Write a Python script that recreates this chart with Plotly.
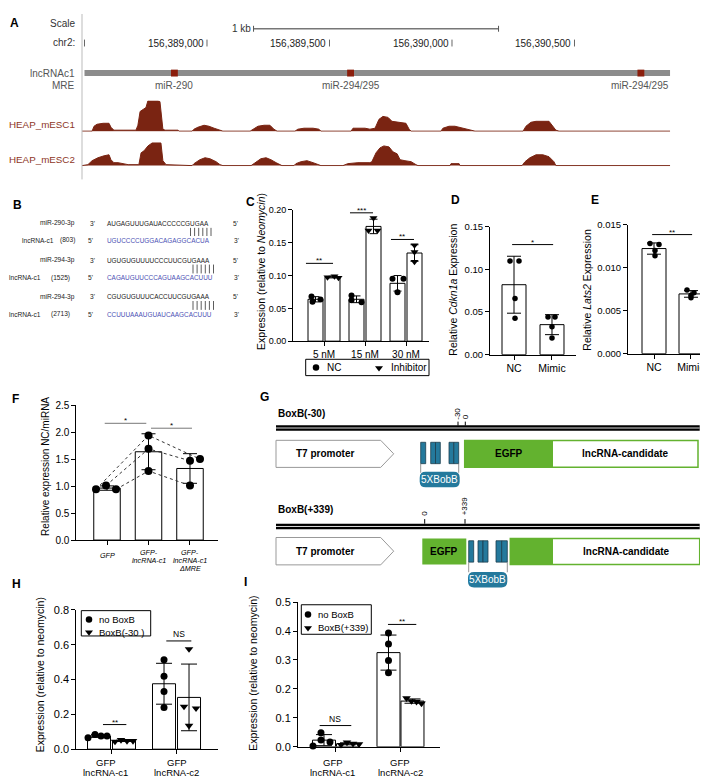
import numpy as np
import plotly.graph_objects as go

W, H = 708, 778
FONT = "Liberation Sans, Arial, Helvetica, sans-serif"


def px(x):
    return x / W


def py(y):
    return 1 - y / H


# ======================= DATA =======================
# ---- Panel A (positions in bp relative to chr2:156,388,500) ----
A_ORIGIN = 156388500
a_tick_pos = [0, 500, 1000, 1500, 2000]
a_tick_lab = ["", "156,389,000", "156,389,500", "156,390,000", "156,390,500"]
a_track_span = [0, 2390]
a_mre_pos = [367, 1086, 2271]
a_mre_lab = ["miR-290", "miR-294/295", "miR-294/295"]
a_scale_bp = [690, 1690]
heap1_pos = [-10, 31, 39, 51, 76, 100, 108, 120, 161, 210,
             218, 227, 239, 251, 259, 300, 308, 320, 329, 382,
             386, 439, 447, 463, 488, 508, 529, 549, 565, 676,
             688, 708, 733, 757, 773, 786, 859, 871, 896, 933,
             957, 965, 1088, 1096, 1145, 1165, 1186, 1202, 1218, 1239,
             1255, 1276, 1312, 1325, 1333, 1455, 1463, 1488, 1512, 1545,
             1586, 1594, 1790, 1802, 1822, 1843, 1896, 1912, 1924, 1937,
             2390]
heap1_cov = [0, 0, 5, 7, 8, 8, 4, 1, 1, 1,
             6, 20, 22, 24, 31, 31, 30, 2, 1, 1,
             0, 0, 2, 4, 6, 5, 3, 1, 0, 0,
             2, 5, 6, 6, 2, 0, 0, 2, 3, 3,
             2, 0, 0, 3, 3, 2, 3, 12, 15, 14,
             10, 9, 8, 2, 0, 0, 3, 5, 5, 3,
             1, 0, 0, 5, 9, 10, 10, 5, 1, 0,
             0]
heap2_pos = [-10, 14, 31, 55, 80, 100, 108, 120, 137, 165,
             178, 222, 231, 243, 259, 276, 312, 320, 333, 439,
             447, 471, 492, 512, 537, 553, 565, 680, 696, 720,
             741, 761, 782, 798, 806, 855, 863, 884, 908, 933,
             953, 965, 1055, 1075, 1116, 1165, 1173, 1190, 1206, 1222,
             1243, 1259, 1276, 1288, 1308, 1333, 1353, 1361, 1492, 1496,
             1529, 1533, 1786, 1798, 1818, 1843, 1871, 1896, 1916, 1924,
             2390]
heap2_cov = [0, 1, 5, 8, 10, 11, 6, 3, 3, 2,
             1, 1, 13, 15, 20, 23, 23, 5, 1, 0,
             2, 6, 8, 7, 4, 1, 0, 0, 3, 7,
             8, 6, 3, 1, 0, 0, 2, 4, 5, 3,
             1, 0, 0, 2, 3, 3, 4, 13, 18, 20,
             19, 14, 12, 6, 5, 4, 1, 0, 0, 2,
             2, 0, 0, 4, 8, 11, 11, 9, 4, 0,
             0]

# ---- Panel B ----
b_mir_names = ["miR-290-3p", "miR-294-3p", "miR-294-3p"]
b_mir_seqs = ["AUGAGUUUGAUACCCCCGUGAA", "UGUGUGUUUUCCCUUCGUGAAA", "CGUGUGUUUCACCUUCGUGAAA"]
b_site_pos = ["(803)", "(1525)", "(2713)"]
b_lnc_seqs = ["UGUCCCCUGGACAGAGGCACUA", "CAGAUGUUCCCAGUAAGCACUUU", "CCUUUAAAUGUAUCAAGCACUUU"]

# ---- Panel C ----
c_conc = ["5 nM", "15 nM", "30 nM"]
c_nc = [[0.068, 0.060, 0.0635], [0.0695, 0.0625, 0.0595], [0.095, 0.095, 0.0745]]
c_inh = [[0.0975, 0.0990, 0.0965], [0.1876, 0.1685, 0.1685], [0.146, 0.136, 0.121]]

# ---- Panel D ----
d_groups = ["NC", "Mimic"]
d_nc = [0.1097, 0.1097, 0.0658, 0.0427]
d_mimic = [0.0442, 0.0442, 0.0327, 0.0196]

# ---- Panel E ----
e_groups = ["NC", "Mimic"]
e_nc = [0.0128, 0.0127, 0.0120, 0.0114]
e_mimic = [0.0074, 0.0071, 0.0068, 0.0065]

# ---- Panel F ----
f_groups = [["GFP"], ["GFP-", "lncRNA-c1"], ["GFP-", "lncRNA-c1", "ΔMRE"]]
f_gfp = [0.94, 1.01, 0.94]
f_lnc = [1.94, 1.69, 1.28]
f_mre = [1.50, 1.47, 1.01]

# ---- Panel H ----
h_groups = [["GFP", "lncRNA-c1"], ["GFP", "lncRNA-c2"]]
h_nobox = [[0.066, 0.085, 0.076, 0.076], [0.514, 0.419, 0.331, 0.240]]
h_box = [[0.044, 0.053, 0.047, 0.047], [0.575, 0.245, 0.235, 0.135]]

# ---- Panel I ----
i_groups = [["GFP", "lncRNA-c1"], ["GFP", "lncRNA-c2"]]
i_nobox = [[0.003, 0.0486, 0.0238, 0.017], [0.393, 0.355, 0.298, 0.256]]
i_box = [[0.007, 0.015, 0.011, 0.009], [0.168, 0.158, 0.156, 0.150]]

# ======================= STYLE =======================
HEAP_C = "#7A2412"
HEAP_T = "#8E3626"
MRE_C = "#8B1E0C"
BLUE_SEQ = "#4B50B4"
TEAL = "#24799C"
TEAL_D = "#1C3E4E"
GREEN = "#63B22F"

fig = go.Figure()
shapes = []
anns = []


def ann(x, y, text, size=10, color="black", xanchor="center", yanchor="middle",
        angle=0, xref="x9", yref="y9", xshift=0, yshift=0):
    anns.append(dict(x=x, y=y, text=text, xref=xref, yref=yref, showarrow=False,
                     font=dict(size=size, color=color, family=FONT),
                     xanchor=xanchor, yanchor=yanchor, textangle=angle,
                     xshift=xshift, yshift=yshift, borderpad=0))


def line(x0, y0, x1, y1, color="black", width=1, xref="x9", yref="y9", dash=None):
    d = dict(type="line", x0=x0, y0=y0, x1=x1, y1=y1, xref=xref, yref=yref,
             line=dict(color=color, width=width))
    if dash:
        d["line"]["dash"] = dash
    shapes.append(d)


def rect(x0, y0, x1, y1, fill, lc, lw=1, xref="x9", yref="y9"):
    shapes.append(dict(type="rect", x0=x0, y0=y0, x1=x1, y1=y1, xref=xref, yref=yref,
                       fillcolor=fill, line=dict(color=lc, width=lw)))


def path(p, fill, lc, lw=1):
    shapes.append(dict(type="path", path=p, xref="x9", yref="y9", fillcolor=fill,
                       line=dict(color=lc, width=lw)))


def rrect(x0, y0, x1, y1, r):
    return (f"M{x0+r},{y0} L{x1-r},{y0} Q{x1},{y0} {x1},{y0+r} L{x1},{y1-r} "
            f"Q{x1},{y1} {x1-r},{y1} L{x0+r},{y1} Q{x0},{y1} {x0},{y1-r} "
            f"L{x0},{y0+r} Q{x0},{y0} {x0+r},{y0} Z")


# panel letters
for L, x, y in [("A", 6, 9), ("B", 9, 194), ("C", 242, 191), ("D", 447, 189), ("E", 587, 189),
                ("F", 7.5, 391.5), ("G", 256, 389), ("H", 8, 579), ("I", 237, 577)]:
    ann(x, y, f"<b>{L}</b>", size=12)

# ======================= PANEL A =======================
for pos, cov, ya in [(heap1_pos, heap1_cov, "y"), (heap2_pos, heap2_cov, "y2")]:
    fig.add_trace(go.Scatter(x=pos, y=cov, mode="lines", fill="tozeroy", fillcolor=HEAP_C,
                             line=dict(color=HEAP_C, width=1), xaxis="x", yaxis=ya,
                             hoverinfo="skip", showlegend=False))

line(74, 0, 74, 168, color="#BBBBBB", width=1)
ann(68, 10, "Scale", size=10, color="#333333", xanchor="right")
ann(68, 29, "chr2:", size=10, color="#333333", xanchor="right")
ann(68, 60, "lncRNAc1", size=10, color="#555555", xanchor="right")
ann(68, 73, "MRE", size=10, color="#555555", xanchor="right")
ann(0, 112, "HEAP_mESC1", size=9.8, color=HEAP_T, xanchor="left")
ann(0, 148, "HEAP_mESC2", size=9.8, color=HEAP_T, xanchor="left")
# scale bar
line(a_scale_bp[0], 15, a_scale_bp[1], 15, color="#777777", width=1.5, xref="x")
for xb in a_scale_bp:
    line(xb, 12, xb, 18, color="#555555", width=1, xref="x")
ann(a_scale_bp[0], 15, "1 kb", size=10, color="#333333", xanchor="right", xref="x", xshift=-2)
# coordinate ticks
for tp, tl in zip(a_tick_pos, a_tick_lab):
    line(tp, 26, tp, 33, color="#666666", width=1, xref="x")
    if tl:
        ann(tp, 29.5, tl, size=10, color="#222222", xanchor="right", xref="x", xshift=-2)
# lncRNA bar and MRE
rect(a_track_span[0], 57, a_track_span[1], 63, "#8C8C8C", "#8C8C8C", 0, xref="x")
for mp in a_mre_pos:
    rect(mp - 14, 56.5, mp + 14, 63.5, MRE_C, MRE_C, 0, xref="x")
for i, (mp, ml) in enumerate(zip(a_mre_pos, a_mre_lab)):
    if i == len(a_mre_pos) - 1:
        ann(a_track_span[1], 72.5, ml, size=10, color="#555555", xanchor="right", xref="x")
    else:
        ann(mp, 72.5, ml, size=10, color="#555555", xref="x")

# ======================= PANEL B =======================
b_mir_y = [212.7, 250, 287]
b_lnc_y = [230, 268, 305]
b_lnc_lab_r = [47, 34, 34]
b_pos_r = [68, 63, 63]
b_bar_x0 = [182.5, 185, 185]
for k in range(3):
    ym, yl = b_mir_y[k], b_lnc_y[k]
    ann(68, ym, b_mir_names[k], size=6.6, color="#222222", xanchor="right")
    ann(84, ym, "3'", size=6.6, color="#222222")
    ann(98, ym, b_mir_seqs[k], size=6.4, color="#222222", xanchor="left")
    ann(227, ym, "5'", size=6.6, color="#222222")
    ann(b_lnc_lab_r[k], yl, "lncRNA-c1", size=6.6, color="#222222", xanchor="right")
    ann(b_pos_r[k], yl, b_site_pos[k], size=6.6, color="#222222", xanchor="right")
    ann(82, yl, "5'", size=6.6, color="#222222")
    ann(98, yl, b_lnc_seqs[k], size=6.4, color=BLUE_SEQ, xanchor="left")
    ann(228, yl, "3'", size=6.6, color="#222222")
    for j in range(6):
        xx = b_bar_x0[k] + j * 4.1
        line(xx, ym + 4.5, xx, yl - 4.5, color="#333333", width=0.8)


# ======================= helpers for bar charts =======================
def bars_points(xa, ya, centers, pts, offset, width, jit, ppu, symbol, msize, cap):
    means = [float(np.mean(p)) for p in pts]
    sds = [float(np.std(p, ddof=1)) for p in pts]
    fig.add_trace(go.Bar(x=[c + offset for c in centers], y=means, width=width,
                         marker=dict(color="white", line=dict(color="black", width=1)),
                         error_y=dict(type="data", array=sds, visible=True, color="black",
                                      thickness=1, width=cap),
                         xaxis=xa, yaxis=ya, showlegend=False, hoverinfo="skip"))
    xs, ys = [], []
    for c, p, jj in zip(centers, pts, jit):
        for v, j in zip(p, jj):
            xs.append(c + offset + j / ppu)
            ys.append(v)
    return dict(x=xs, y=ys, xaxis=xa, yaxis=ya, symbol=symbol, size=msize)


point_sets = []


def yax(bot, top, rng, dtick, fmt, fs, anchor):
    return dict(domain=[py(bot), py(top)], range=rng, tick0=0, dtick=dtick, tickformat=fmt,
                showline=True, linecolor="black", linewidth=1, ticks="outside", ticklen=4,
                tickwidth=1, tickcolor="black", tickfont=dict(size=fs, color="black", family=FONT),
                showgrid=False, zeroline=False, anchor=anchor)


def xax(left, right, rng, tickvals, ticktext, fs, anchor):
    return dict(domain=[px(left), px(right)], range=rng, tickvals=tickvals, ticktext=ticktext,
                showline=True, linecolor="black", linewidth=1, ticks="outside", ticklen=4,
                tickwidth=1, tickcolor="black", tickfont=dict(size=fs, color="black", family=FONT),
                showgrid=False, zeroline=False, anchor=anchor)


def sig(xa, ya, x0, x1, y, text, color="black", size=8, yshift=-3):
    line(x0, y, x1, y, color=color, width=1, xref=xa, yref=ya)
    ann((x0 + x1) / 2, y, text, size=size, color="black", xref=xa, yref=ya,
        yanchor="bottom", yshift=yshift)


def cat_labels(xa, centers, labels, y0, dy, size, italic=False):
    for c, lab in zip(centers, labels):
        for k, t in enumerate(lab):
            txt = f"<i>{t}</i>" if italic else t
            ann(c, y0 + k * dy, txt, size=size, xref=xa)


# ======================= PANEL C =======================
C_PPU = 41.0
c_centers = [0, 1, 2]
c_nc_jit = [[-4, -3, 5], [-5, -5, 5], [-5, 6, 0]]
c_inh_jit = [[-5, 2, 6], [0, -5, 4], [0, 0, 0]]
point_sets.append(bars_points("x3", "y3", c_centers, c_nc, -8.5 / C_PPU, 15 / C_PPU, c_nc_jit, C_PPU, "circle", 6, 4))
point_sets.append(bars_points("x3", "y3", c_centers, c_inh, 8.5 / C_PPU, 15 / C_PPU, c_inh_jit, C_PPU, "triangle-down", 7, 4))
sig("x3", "y3", -0.44, 0.22, 0.1186, "**")
sig("x3", "y3", 0.634, 1.195, 0.1956, "***")
sig("x3", "y3", 1.634, 2.195, 0.155, "**")
ann(253, 262, "Expression (relative to <i>Neomycin</i>)", size=10.5, angle=-90)
rect(297.7, 350.7, 421, 367.3, "rgba(0,0,0,0)", "black", 1)
ann(318, 359, "NC", size=10, xanchor="left")
ann(382, 359, "Inhibitor", size=10, xanchor="left")

# ======================= PANEL D =======================
D_PPU = 38.0
d_jit = [[-4, 5, 1, 1], [-4, 3, 0, 0]]
point_sets.append(bars_points("x4", "y4", [0], [d_nc], 0, 24 / D_PPU, [d_jit[0]], D_PPU, "circle", 5.5, 7))
point_sets.append(bars_points("x4", "y4", [1], [d_mimic], 0, 24 / D_PPU, [d_jit[1]], D_PPU, "circle", 5.5, 7))
sig("x4", "y4", -0.05, 1.03, 0.129, "*")
ann(445, 280, "Relative <i>Cdkn1a</i> Expression", size=10.5, angle=-90)

# ======================= PANEL E =======================
E_PPU = 37.0
point_sets.append(bars_points("x5", "y5", [0], [e_nc], 0, 24 / E_PPU, [d_jit[0]], E_PPU, "circle", 5.5, 7))
point_sets.append(bars_points("x5", "y5", [1], [e_mimic], 0, 24 / E_PPU, [d_jit[1]], E_PPU, "circle", 5.5, 7))
sig("x5", "y5", -0.05, 1.03, 0.01385, "**")
ann(579, 280, "Relative <i>Lats2</i> Expression", size=10.5, angle=-90)

# ======================= PANEL F =======================
F_PPU = 41.5
f_jit = [[-11, -1, 9], [0, 0, 0], [10, 0, 0]]
f_vals = [f_gfp, f_lnc, f_mre]
for g in range(3):
    point_sets.append(bars_points("x6", "y6", [g], [f_vals[g]], 0, 26.5 / F_PPU, [f_jit[g]], F_PPU, "circle", 8, 7))
for r in range(3):
    fig.add_trace(go.Scatter(x=[g + f_jit[g][r] / F_PPU for g in range(3)],
                             y=[f_vals[g][r] for g in range(3)], mode="lines",
                             line=dict(color="#333333", width=1, dash="dot"),
                             xaxis="x6", yaxis="y6", showlegend=False, hoverinfo="skip"))
sig("x6", "y6", -0.055, 0.947, 2.164, "*", color="#777777")
sig("x6", "y6", 1.06, 2.048, 2.073, "*", color="#777777")
ann(38, 460, "Relative expression NC/miRNA", size=10, angle=-90)
ann(0, 550, "<i>GFP</i>", size=7.2, xref="x6")
cat_labels("x6", [1, 2], f_groups[1:], 546.7, 8.3, 7.2, italic=True)

# ======================= PANEL G =======================
ann(269, 406, "<b>BoxB(-30)</b>", size=10, xanchor="left")
ann(269, 503.3, "<b>BoxB(+339)</b>", size=10, xanchor="left")

# construct 1
rect(268, 417.7, 691.7, 423.3, "black", "black", 0)
line(268, 420.5, 691.7, 420.5, color="#DDDDDD", width=1)
ann(450, 406, "-30", size=8, angle=-90)
ann(457.6, 409, "0", size=8, angle=-90)
line(450, 414, 450, 418, width=1)
line(457.3, 414, 457.3, 418, width=1)
path("M268,433 L372.7,433 L385.7,446.7 L372.7,460.5 L268,460.5 Z", "white", "#999999", 1)
ann(316.7, 446.7, "<b>T7 promoter</b>", size=10)
for x0, x1 in [(412.7, 417.7), (422.7, 427.5), (427.5, 432.3), (441, 445.8), (445.8, 450.7)]:
    rect(x0, 435, x1, 456.7, TEAL, TEAL_D, 0.8)
line(412.7, 456.7, 412.7, 466, color="#777777", width=0.8)
line(450.7, 456.7, 450.7, 466, color="#777777", width=0.8)
path(rrect(411.7, 465, 451.7, 480.7, 6), TEAL, TEAL, 0)
ann(431.7, 473, "5XBobB", size=10, color="white")
rect(456.7, 433.3, 545, 460.3, GREEN, GREEN, 0)
rect(456.7, 433.3, 690, 460.3, "rgba(0,0,0,0)", GREEN, 1.5)
ann(501, 446.7, "<b>EGFP</b>", size=10)
ann(617.5, 446.7, "<b>lncRNA-candidate</b>", size=10)

# construct 2
rect(268, 517.7, 691.7, 523.3, "black", "black", 0)
line(268, 520.5, 691.7, 520.5, color="#DDDDDD", width=1)
ann(417, 507.5, "0", size=8, angle=-90)
ann(456.5, 499.5, "+339", size=8, angle=-90)
line(416.7, 513, 416.7, 517.7, width=1)
line(457, 513, 457, 517.7, width=1)
path("M268,531.7 L372.7,531.7 L385.7,545.6 L372.7,559.5 L268,559.5 Z", "white", "#999999", 1)
ann(316.7, 545.6, "<b>T7 promoter</b>", size=10)
rect(414.3, 532.7, 458.3, 559, GREEN, GREEN, 0)
ann(436.3, 545.6, "<b>EGFP</b>", size=10)
for x0, x1 in [(460.7, 465.7), (470, 475), (475, 480), (488, 493.7), (493.7, 499.3)]:
    rect(x0, 535, x1, 556.7, TEAL, TEAL_D, 0.8)
line(460.7, 556.7, 460.7, 567, color="#777777", width=0.8)
line(499.3, 556.7, 499.3, 567, color="#777777", width=0.8)
path(rrect(460, 566.7, 499.3, 582.5, 6), TEAL, TEAL, 0)
ann(479.7, 574.6, "5XBobB", size=10, color="white")
rect(502.3, 532.7, 545, 559, GREEN, GREEN, 0)
rect(502.3, 532.7, 691.7, 559, "rgba(0,0,0,0)", GREEN, 1.5)
ann(618, 545.6, "<b>lncRNA-candidate</b>", size=10)

# ======================= PANEL H =======================
H_PPU = 65.0
h_centers = [0, 1]
h_nobox_jit = [[-11, -4, 2, 8], [0, 0, 0, 0]]
h_box_jit = [[-9, -3, 3, 9], [0, -5, 7, 0]]
point_sets.append(bars_points("x7", "y7", h_centers, h_nobox, -12.5 / H_PPU, 23 / H_PPU, h_nobox_jit, H_PPU, "circle", 7, 8))
point_sets.append(bars_points("x7", "y7", h_centers, h_box, 12.5 / H_PPU, 23 / H_PPU, h_box_jit, H_PPU, "triangle-down", 7.5, 8))
sig("x7", "y7", -0.131, 0.228, 0.1414, "**")
sig("x7", "y7", 0.843, 1.228, 0.622, "NS", size=8.5, yshift=1)
ann(31.7, 671, "Expression (relative to neomycin)", size=10.5, angle=-90)
rect(73.3, 606, 142.7, 631.7, "rgba(0,0,0,0)", "black", 1)
ann(90, 615, "no BoxB", size=9.5, xanchor="left")
ann(90, 627.7, "BoxB(-30 )", size=9.5, xanchor="left")
cat_labels("x7", [-0.09, 1.0], h_groups, 760, 10.5, 9.5)

# ======================= PANEL I =======================
I_PPU = 64.5
i_centers = [0, 1]
i_nobox_jit = [[-11, -3, -3, 6], [0, 0, 0, 0]]
i_box_jit = [[-7, -1, 5, 11], [-6, -1, 4, 9]]
point_sets.append(bars_points("x8", "y8", i_centers, i_nobox, -12 / I_PPU, 23 / I_PPU, i_nobox_jit, I_PPU, "circle", 7, 8))
point_sets.append(bars_points("x8", "y8", i_centers, i_box, 12 / I_PPU, 23 / I_PPU, i_box_jit, I_PPU, "triangle-down", 7.5, 8))
sig("x8", "y8", -0.253, 0.237, 0.0735, "NS", size=8.5, yshift=1)
sig("x8", "y8", 0.806, 1.245, 0.4228, "**")
ann(245, 670, "Expression (relative to neomycin)", size=10.5, angle=-90)
rect(293.3, 600, 363.3, 630, "rgba(0,0,0,0)", "black", 1)
ann(309, 610, "no BoxB", size=9.5, xanchor="left")
ann(309, 623, "BoxB(+339)", size=9.5, xanchor="left")
cat_labels("x8", [-0.05, 1.0], i_groups, 760, 10.5, 9.5)

# data points on top
for ps in point_sets:
    fig.add_trace(go.Scatter(x=ps["x"], y=ps["y"], mode="markers",
                             marker=dict(symbol=ps["symbol"], size=ps["size"], color="black"),
                             xaxis=ps["xaxis"], yaxis=ps["yaxis"], showlegend=False,
                             hoverinfo="skip", cliponaxis=False))

# legend symbols (drawn on page-pixel overlay axis)
fig.add_trace(go.Scatter(x=[308, 81, 300], y=[359, 615, 610], mode="markers",
                         marker=dict(symbol="circle", size=6.5, color="black"),
                         xaxis="x9", yaxis="y9", showlegend=False, hoverinfo="skip"))
fig.add_trace(go.Scatter(x=[371, 81, 300], y=[359.5, 628, 623.5], mode="markers",
                         marker=dict(symbol="triangle-down", size=7, color="black"),
                         xaxis="x9", yaxis="y9", showlegend=False, hoverinfo="skip"))

# ======================= LAYOUT =======================
hidden = dict(visible=False, showgrid=False, zeroline=False)
layout = dict(
    width=W, height=H, margin=dict(l=0, r=0, t=0, b=0),
    paper_bgcolor="white", plot_bgcolor="rgba(0,0,0,0)",
    font=dict(family=FONT, color="black"),
    barmode="overlay", showlegend=False,
    xaxis=dict(domain=[0, 1], range=[-312.2, 2577.6], anchor="y", **hidden),
    yaxis=dict(domain=[py(119.6), py(88)], range=[-0.6, 31], anchor="x", **hidden),
    yaxis2=dict(domain=[py(154.6), py(123)], range=[-0.6, 31], anchor="x", **hidden),
    xaxis3=xax(285, 421, [-0.756, 2.561], [0, 1, 2], c_conc, 10, "y3"),
    yaxis3=yax(332.3, 199, [0, 0.2], 0.05, ".2f", 9, "x3"),
    xaxis4=xax(482, 568, [-0.632, 1.632], [0, 1], d_groups, 10.5, "y4"),
    yaxis4=yax(346, 216, [0, 0.15], 0.05, ".2f", 9.5, "x4"),
    xaxis5=xax(620, 706, [-0.703, 1.622], [0, 1], e_groups, 10.5, "y5"),
    yaxis5=yax(345, 214, [0, 0.015], 0.005, ".3f", 9.5, "x5"),
    xaxis6=xax(68.3, 210, [-0.74, 2.675], [0, 1, 2], ["", "", ""], 7.2, "y6"),
    yaxis6=yax(534.3, 397.3, [0, 2.5], 0.5, ".1f", 10, "x6"),
    xaxis7=xax(68.3, 210, [-0.5415, 1.638], [0, 1], ["", ""], 9.5, "y7"),
    yaxis7=yax(746.7, 605.3, [0, 0.8], 0.2, ".1f", 11, "x7"),
    xaxis8=xax(290, 431.7, [-0.589, 1.608], [0, 1], ["", ""], 9.5, "y8"),
    yaxis8=yax(744.3, 597.3, [0, 0.5], 0.1, ".1f", 11, "x8"),
    xaxis9=dict(domain=[0, 1], range=[0, W], anchor="y9", **hidden),
    yaxis9=dict(domain=[0, 1], range=[H, 0], anchor="x9", **hidden),
    shapes=shapes, annotations=anns,
)
fig.update_layout(**layout)
fig.write_html("out.html")
